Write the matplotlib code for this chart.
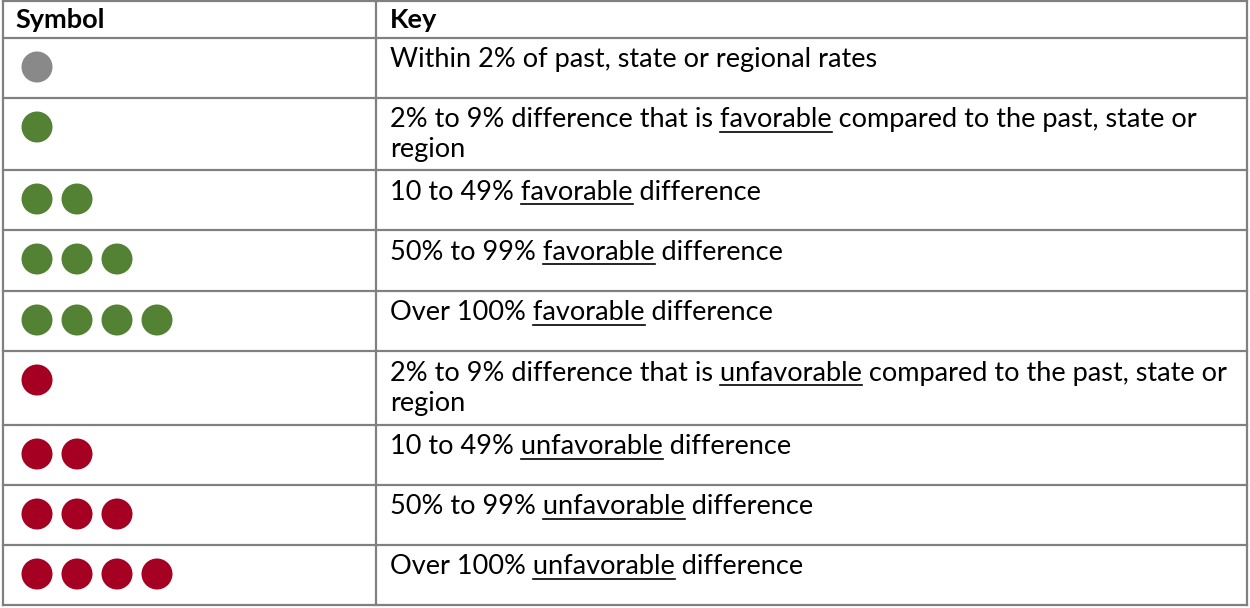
import matplotlib
matplotlib.use('Agg')
import matplotlib.pyplot as plt
from matplotlib.patches import Circle

# table content
header = ['Symbol', 'Key']
dot_counts = [1, 1, 2, 3, 4, 1, 2, 3, 4]
dot_kinds = ['neutral', 'good', 'good', 'good', 'good', 'bad', 'bad', 'bad', 'bad']
key_lines = [
    ['Within 2% of past, state or regional rates'],
    ['2% to 9% difference that is favorable compared to the past, state or', 'region'],
    ['10 to 49% favorable difference'],
    ['50% to 99% favorable difference'],
    ['Over 100% favorable difference'],
    ['2% to 9% difference that is unfavorable compared to the past, state or', 'region'],
    ['10 to 49% unfavorable difference'],
    ['50% to 99% unfavorable difference'],
    ['Over 100% unfavorable difference'],
]
underlined = ['', 'favorable', 'favorable', 'favorable', 'favorable',
              'unfavorable', 'unfavorable', 'unfavorable', 'unfavorable']

colors = {'neutral': '#898989', 'good': '#548235', 'bad': '#A50021'}
line_color = '#808080'
font = ['Lato', 'DejaVu Sans']
fs = 19.5

# layout in pixels
W, H = 1250, 608
left, right, split = 3, 1247, 376
row_edges = [1, 38, 98, 170, 230, 291, 351, 425, 485, 545, 605]

fig = plt.figure(figsize=(W / 100, H / 100), dpi=100)
ax = fig.add_axes([0, 0, 1, 1])
ax.set_xlim(0, W)
ax.set_ylim(H, 0)
ax.axis('off')

# grid
for y in row_edges:
    ax.plot([left, right], [y, y], color=line_color, lw=1.6, solid_capstyle='projecting')
for x in [left, split, right]:
    ax.plot([x, x], [row_edges[0], row_edges[-1]], color=line_color, lw=1.6, solid_capstyle='projecting')

# header
ax.text(15, 28, header[0], fontsize=fs, fontweight='bold', family=font, va='baseline')
ax.text(390, 28, header[1], fontsize=fs, fontweight='bold', family=font, va='baseline')

fig.canvas.draw()
renderer = fig.canvas.get_renderer()
inv = ax.transData.inverted()

for i in range(len(dot_counts)):
    top = row_edges[i + 1]
    cy = top + 29
    for k in range(dot_counts[i]):
        ax.add_patch(Circle((37 + 40 * k, cy), 15.5, color=colors[dot_kinds[i]], lw=0))
    for j, line in enumerate(key_lines[i]):
        by = top + 29.5 + 30 * j
        t = ax.text(390, by, line, fontsize=fs, family=font, va='baseline')
        word = underlined[i]
        if word and word in line:
            pre = line[:line.index(word) + len(word)]
            tp = ax.text(390, by, pre, fontsize=fs, family=font, va='baseline')
            tw = ax.text(390, by, word, fontsize=fs, family=font, va='baseline')
            x1 = inv.transform((tp.get_window_extent(renderer).x1, 0))[0]
            ww = tw.get_window_extent(renderer).width
            tp.remove()
            tw.remove()
            ax.plot([x1 - ww, x1], [by + 4.5, by + 4.5], color='black', lw=1.2)

fig.savefig('out.png', dpi=100, facecolor='white')
